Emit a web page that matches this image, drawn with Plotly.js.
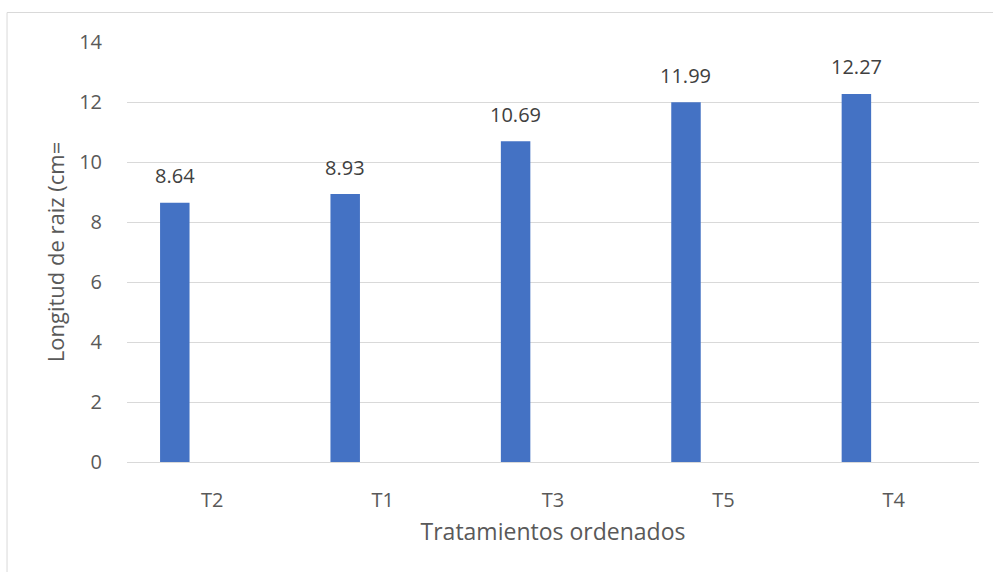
<!DOCTYPE html>
<html>
<head>
<meta charset="utf-8">
<script src="https://cdn.plot.ly/plotly-3.0.1.min.js"></script>
<style>html,body{margin:0;padding:0;background:#fff;}#chart{width:993px;height:572px;}</style>
</head>
<body>
<div id="chart"></div>
<script>
var categories = ["T2", "T1", "T3", "T5", "T4"];
var values = [8.64, 8.93, 10.69, 11.99, 12.27];
var valueLabels = ["8.64", "8.93", "10.69", "11.99", "12.27"];
var yTicks = [0, 2, 4, 6, 8, 10, 12, 14];

var font = "Open Sans, Noto Sans, sans-serif";

var trace = {
  type: "bar",
  x: categories,
  y: values,
  width: 0.173,
  offset: -0.306,
  marker: {color: "#4472C4", line: {width: 0}},
  hoverinfo: "x+y"
};

var annotations = categories.map(function (c, i) {
  return {
    x: c, y: values[i], xref: "x", yref: "y",
    text: valueLabels[i], showarrow: false,
    xshift: -0.2195 * 170.4, yshift: 27,
    font: {family: font, size: 20, color: "#404040"}
  };
});

var layout = {
  width: 993, height: 572,
  margin: {l: 127, r: 14, t: 42, b: 110},
  paper_bgcolor: "#ffffff",
  plot_bgcolor: "#ffffff",
  showlegend: false,
  font: {family: font, color: "#595959"},
  xaxis: {
    type: "category",
    range: [-0.5, 4.5],
    showgrid: false,
    showline: false,
    zeroline: false,
    ticks: "outside",
    ticklen: 20,
    tickcolor: "rgba(0,0,0,0)",
    tickfont: {family: font, size: 20, color: "#595959"},
    title: {text: "Tratamientos ordenados", font: {family: font, size: 23, color: "#595959"}, standoff: 11}
  },
  yaxis: {
    range: [0, 14],
    tickvals: yTicks,
    ticktext: yTicks.map(String),
    showgrid: true,
    gridcolor: "#d9d9d9",
    gridwidth: 1,
    zeroline: true,
    zerolinecolor: "#d9d9d9",
    zerolinewidth: 1,
    showline: false,
    ticks: "outside",
    ticklen: 20,
    tickcolor: "rgba(0,0,0,0)",
    tickfont: {family: font, size: 20, color: "#595959"},
    title: {text: "Longitud de raiz (cm=", font: {family: font, size: 22, color: "#595959"}, standoff: 8}
  },
  annotations: annotations,
  shapes: [{
    type: "rect", xref: "paper", yref: "paper",
    x0: -0.1408, x1: 1.2, y0: -0.5, y1: 1.0702,
    line: {color: "#d9d9d9", width: 1}, fillcolor: "rgba(0,0,0,0)", layer: "below"
  }]
};

Plotly.newPlot("chart", [trace], layout, {displayModeBar: false, staticPlot: true});
</script>
</body>
</html>
